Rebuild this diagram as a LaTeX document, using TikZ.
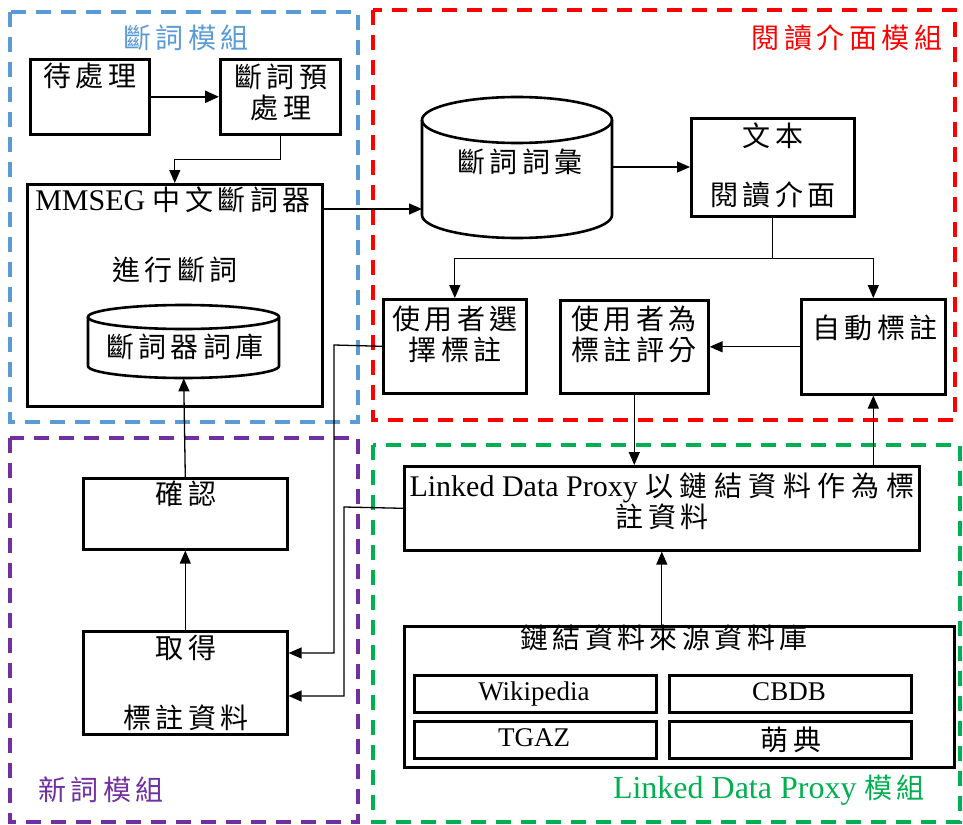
\documentclass[tikz,border=0pt]{standalone}
\usepackage{fontspec}
\setmainfont{Liberation Serif}
\newfontfamily\cjkfont[LetterSpace=16]{Noto Sans CJK TC}
\newfontfamily\cjkwide[LetterSpace=23]{Noto Sans CJK TC}
\usetikzlibrary{arrows.meta}
\definecolor{fblue}{RGB}{91,155,213}
\definecolor{fred}{RGB}{255,0,0}
\definecolor{fpurple}{RGB}{112,48,160}
\definecolor{fgreen}{RGB}{0,176,80}
\newcommand\zh[1]{{\cjkfont\fontsize{28}{31}\selectfont #1}}
\newcommand\zhw[1]{{\cjkwide\fontsize{28}{31}\selectfont #1}}
\begin{document}
\begin{tikzpicture}[x=1pt,y=-1pt,
 frame/.style={line width=3.4pt, dash pattern=on 15pt off 10pt},
 box/.style={draw, line width=2.6pt, inner sep=0pt, anchor=north west},
 zhtxt/.style={font=\cjkfont\fontsize{28}{31}\selectfont, align=center, inner sep=0pt},
 entxt/.style={font=\fontsize{30}{31}\selectfont, align=center, inner sep=0pt},
 smtxt/.style={font=\fontsize{27}{30}\selectfont, align=center, inner sep=0pt},
 conn/.style={line width=1.3pt, -{Triangle[length=13pt,width=11pt]}},
 conn2/.style={line width=2.4pt, -{Triangle[length=14pt,width=12pt]}},
 cyl/.style={line width=2.6pt}]
\useasboundingbox (0,0) rectangle (963,824);

% frames
\draw[frame, fblue] (10,12) rectangle (358,422);
\draw[frame, fred] (373,10) rectangle (955,420);
\draw[frame, fpurple] (10,438) rectangle (358,822);
\draw[frame, fgreen] (373,445) rectangle (960,822);

% titles
\node[zhtxt, text=fblue] (t1) at (186,38) {斷詞模組};
\node[zhtxt, text=fred] (t2) at (847,38) {閱讀介面模組};
\node[zhtxt, text=fpurple] (t3) at (101,790) {新詞模組};
\node[inner sep=0pt, text=fgreen, font=\fontsize{32}{34}\selectfont] (t4) at (769,790) {Linked Data Proxy \zh{模組}};

% word segmentation module
\node[box, minimum width=119pt, minimum height=75pt] (dcl) at (29,58) {};
\node[zhtxt] (dclt) at (90,76) {待處理};
\node[box, minimum width=120pt, minimum height=75pt] (pre) at (219,58) {};
\node[zhtxt] (pret) at (281,92) {斷詞預\\處理};
\node[box, minimum width=295pt, minimum height=222pt] (mm) at (26,183) {};
\node[entxt] (mmt) at (173,200) {MMSEG \zh{中文斷詞器}};
\node[zhtxt] (mmt2) at (175,270) {進行斷詞};

\node[inner sep=0pt, minimum width=191pt, minimum height=73pt, anchor=north west] (cyl2) at (88,305) {};
\draw[cyl] (183.5,317) ellipse [x radius=95.5pt, y radius=12pt];
\draw[cyl] (88,317) -- (88,366) .. controls (88,372.6) and (130.8,378) .. (183.5,378) .. controls (236.2,378) and (279,372.6) .. (279,366) -- (279,317);
\node[zhtxt] (cyl2t) at (185,347) {斷詞器詞庫};

% reading interface module
\node[inner sep=0pt, minimum width=190pt, minimum height=141pt, anchor=north west] (cyl1) at (422,97) {};
\draw[cyl] (517,120) ellipse [x radius=95pt, y radius=23pt];
\draw[cyl] (422,120) -- (422,215) .. controls (422,227.7) and (464.5,238) .. (517,238) .. controls (569.5,238) and (612,227.7) .. (612,215) -- (612,120);
\node[zhtxt] (cyl1t) at (520,162) {斷詞詞彙};

\node[box, minimum width=163pt, minimum height=98pt] (rd) at (690,117) {};
\node[zhtxt] (rdt1) at (773,136) {文本};
\node[zhtxt] (rdt2) at (773,195) {閱讀介面};

\node[box, minimum width=143pt, minimum height=94pt] (sel) at (382,298) {};
\node[zhtxt] (selt) at (455,334) {使用者選\\擇標註};
\node[box, minimum width=148pt, minimum height=93pt] (rate) at (559,299) {};
\node[zhtxt] (ratet) at (634,334) {使用者為\\標註評分};
\node[box, minimum width=144pt, minimum height=95pt] (auto) at (800,298) {};
\node[zhtxt] (autot) at (875,328) {自動標註};

% linked data proxy module
\node[box, minimum width=515pt, minimum height=84pt] (ldp) at (403,465) {};
\node[entxt] (ldpt) at (662,501) {Linked Data Proxy \zhw{以鏈結資料作為標}\\\zh{註資料}};
\node[box, minimum width=550pt, minimum height=141pt] (src) at (403,625) {};
\node[zhtxt] (srct) at (664,638) {鏈結資料來源資料庫};
\node[box, minimum width=242pt, minimum height=37pt] (wiki) at (413,674) {};
\node[smtxt] (wikit) at (534,694) {Wikipedia};
\node[box, minimum width=242pt, minimum height=37pt] (cbdb) at (668,674) {};
\node[smtxt] (cbdbt) at (789,692) {CBDB};
\node[box, minimum width=242pt, minimum height=37pt] (tgaz) at (413,720) {};
\node[smtxt] (tgazt) at (534,738) {TGAZ};
\node[box, minimum width=242pt, minimum height=37pt] (meng) at (668,720) {};
\node[zhtxt] (mengt) at (791,740) {萌典};

% new word module
\node[box, minimum width=204pt, minimum height=71pt] (conf) at (82,477) {};
\node[zhtxt] (conft) at (186,494) {確認};
\node[box, minimum width=204pt, minimum height=103pt] (get) at (82,630) {};
\node[zhtxt] (gett1) at (186,648) {取得};
\node[zhtxt] (gett2) at (186,718) {標註資料};

% connectors
\draw[conn2] (dcl.east) -- (pre.west);
\draw[conn] (pre.south) -- ++(0,24) -| (mm.north);
\draw[conn] (mm.east |- 0,209) -- (cyl1.west |- 0,209);
\draw[conn] (cyl1.east |- 0,167) -- (rd.west |- 0,167);
\draw[conn] (rd.south) -- ++(0,41) -| (sel.north);
\draw[conn] (rd.south) ++(0,41) -| (auto.north);
\draw[conn] (auto.west) -- (rate.east);
\draw[conn] (rate.south) -- (rate.south |- ldp.north);
\draw[conn] (auto.south |- ldp.north) -- (auto.south);
\draw[conn] (ldp.south |- src.north) -- (ldp.south);
\draw[conn] (sel.west) -- (334,345) -- (334,653) -- (get.east |- 0,653);
\draw[conn] (ldp.west) -- (344,507) -- (344,696) -- (get.east |- 0,696);
\draw[conn] (get.north) -- (conf.south);
\draw[conn] (conf.north) -- (cyl2.south);
\end{tikzpicture}
\end{document}
